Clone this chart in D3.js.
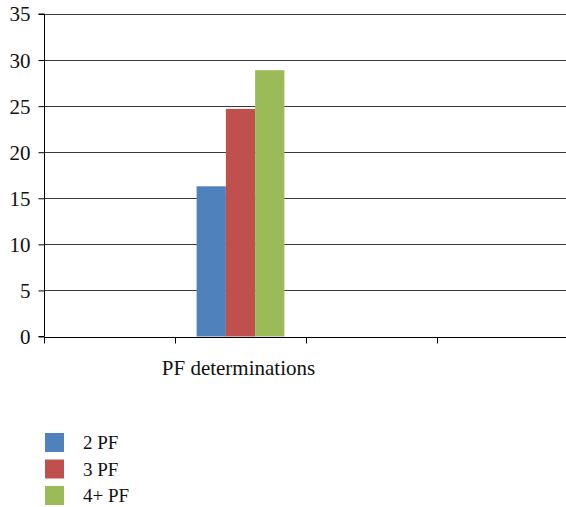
<!DOCTYPE html>
<html><head><meta charset="utf-8">
<script src="https://cdn.jsdelivr.net/npm/d3@7"></script>
<style>body{margin:0;background:#fff} svg text{font-family:"Liberation Serif","Times New Roman",serif !important}</style>
</head><body><svg id="c" width="566" height="507"></svg>
<script>
const categories = ["", "PF determinations", "", ""];
const seriesNames = ["2 PF", "3 PF", "4+ PF"];
const seriesValues = [
  [null, 16.3, null, null],
  [null, 24.7, null, null],
  [null, 28.9, null, null]
];
const colors = ["#4F81BD", "#C0504D", "#9BBB59"];
const yTicks = [0, 5, 10, 15, 20, 25, 30, 35];

const svg = d3.select("#c");
const m = {l: 44};
const W = 566;
const x0 = d3.scaleBand().domain(categories.map((d, i) => i)).range([m.l, 568]);
const x1 = d3.scaleBand().domain(seriesNames).range([0, x0.bandwidth() * 0.67]);
const y = d3.scaleLinear().domain([0, 35]).range([336.5, 14]);

// gridlines
svg.append("g").selectAll("line").data(yTicks.filter(d => d > 0)).join("line")
  .attr("x1", m.l).attr("x2", W).attr("y1", d => Math.round(y(d)) + 0.5).attr("y2", d => Math.round(y(d)) + 0.5)
  .attr("stroke", "#3a3a3a").attr("stroke-width", 1);

// bars
const off = (x0.bandwidth() - x1.range()[1]) / 2;
seriesNames.forEach((s, si) => {
  svg.append("g").selectAll("rect").data(seriesValues[si].map((v, i) => ({v, i})).filter(d => d.v != null)).join("rect")
    .attr("x", d => x0(d.i) + off + x1(s))
    .attr("width", x1.bandwidth())
    .attr("y", d => y(d.v))
    .attr("height", d => y(0) - y(d.v))
    .attr("fill", colors[si]);
});

// y axis
const ya = svg.append("g").attr("transform", `translate(${m.l + 0.5},0)`)
  .call(d3.axisLeft(y).tickValues(yTicks).tickSize(6).tickPadding(8).tickFormat(d3.format("d")));
ya.attr("font-family", null).attr("font-size", null);
ya.select(".domain").attr("stroke", "#000").attr("d", `M-6,${y(35)}H0V${y(0)}H-6`);
ya.selectAll(".tick line").attr("stroke", "#000");
ya.selectAll("text").attr("fill", "#111").attr("dy", "0.33em").style("font-size", "21px");

// x axis
const xa = svg.append("g").attr("transform", `translate(0,${Math.round(y(0)) + 0.5})`);
xa.append("line").attr("x1", m.l).attr("x2", W).attr("stroke", "#000");
xa.selectAll("line.t").data(d3.range(categories.length)).join("line").attr("class", "t")
  .attr("x1", d => Math.round(x0(d)) + 0.5).attr("x2", d => Math.round(x0(d)) + 0.5).attr("y1", 0).attr("y2", 6).attr("stroke", "#000");
xa.selectAll("text").data(categories.map((c, i) => ({c, i}))).join("text")
  .attr("x", d => x0(d.i) + x0.bandwidth() / 2 - 2).attr("y", 37).attr("text-anchor", "middle")
  .style("font-size", "21px").attr("fill", "#111").text(d => d.c);

// legend
const lg = svg.append("g");
seriesNames.forEach((s, i) => {
  lg.append("rect").attr("x", 45).attr("y", 433 + i * 26.5).attr("width", 19).attr("height", 19).attr("fill", colors[i]);
  lg.append("text").attr("x", 83).attr("y", 449 + i * 26.5)
    .style("font-size", "19px").attr("fill", "#111").text(s);
});
</script></body></html>
